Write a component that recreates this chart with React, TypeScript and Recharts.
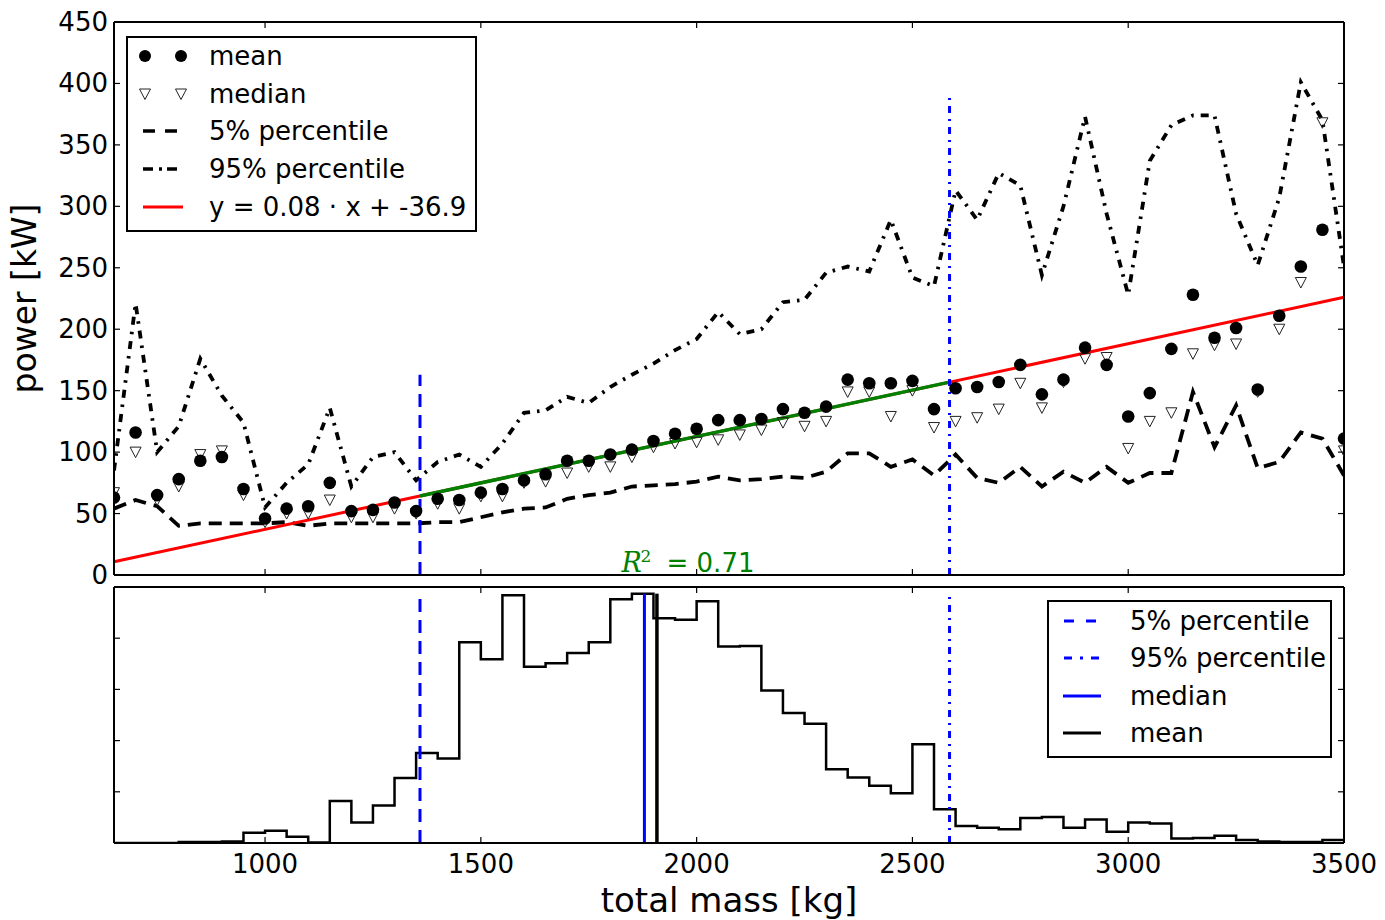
import { ComposedChart, Line, Scatter, XAxis, YAxis, ReferenceLine, ReferenceDot, Legend } from 'recharts'

const FONT = '"DejaVu Sans", "Liberation Sans", sans-serif'

// mass bin starts [kg]
const massBins = [
  650, 700, 750, 800, 850, 900, 950, 1000, 1050, 1100, 1150, 1200, 1250, 1300, 1350,
  1400, 1450, 1500, 1550, 1600, 1650, 1700, 1750, 1800, 1850, 1900, 1950, 2000, 2050,
  2100, 2150, 2200, 2250, 2300, 2350, 2400, 2450, 2500, 2550, 2600, 2650, 2700, 2750,
  2800, 2850, 2900, 2950, 3000, 3050, 3100, 3150, 3200, 3250, 3300, 3350, 3400, 3450, 3500,
]

const meanPower = [
  63, 116, 65, 78, 93, 96, 70, 46, 54, 56, 75, 52, 53, 59, 52,
  62, 61, 67, 70, 77, 82, 93, 93, 98, 102, 109, 115, 119, 126,
  126, 127, 135, 132, 137, 159, 156, 156, 158, 135, 152, 153, 157, 171,
  147, 159, 185, 171, 129, 148, 184, 228, 193, 201, 151, 211, 251, 281, 111,
]

const medianPower = [
  67, 100, 61, 72, 98, 101, 65, 43, 50, 50, 61, 47, 47, 54, 50,
  58, 54, 64, 64, 75, 76, 83, 88, 88, 96, 104, 107, 108, 110,
  114, 118, 124, 121, 125, 149, 149, 129, 150, 120, 125, 128, 135, 156,
  136, 157, 176, 177, 103, 125, 132, 180, 187, 188, 149, 200, 238, 368, 101,
]

const p5Power = [
  54, 61, 56, 40, 42, 42, 42, 42, 43, 40, 42, 42, 42, 42, 42,
  43, 43, 47, 51, 54, 55, 62, 65, 67, 72, 73, 74, 76, 80,
  77, 78, 80, 79, 84, 99, 99, 88, 94, 81, 98, 79, 75, 88,
  72, 84, 75, 88, 75, 83, 83, 149, 104, 138, 87, 92, 116, 111, 81,
]

const p95Power = [
  85, 221, 100, 121, 176, 146, 124, 55, 75, 90, 136, 72, 96, 100, 77,
  92, 98, 88, 107, 132, 134, 145, 140, 153, 163, 172, 183, 192, 214,
  196, 200, 222, 224, 246, 251, 247, 289, 242, 235, 313, 289, 327, 317,
  244, 300, 373, 294, 228, 337, 366, 374, 374, 294, 252, 307, 401, 370, 251,
]

// histogram heights per bin (last entry closes the step at 3500)
const histCounts = [
  0, 0, 0, 0.02, 0.02, 0.03, 0.2, 0.24, 0.12, 0.01, 0.82, 0.4, 0.73, 1.27, 1.76,
  1.65, 3.92, 3.59, 4.84, 3.44, 3.51, 3.71, 3.92, 4.76, 4.87, 4.39, 4.36, 4.72, 3.84,
  3.85, 2.98, 2.54, 2.33, 1.44, 1.28, 1.12, 0.97, 1.93, 0.66, 0.33, 0.3, 0.27, 0.49,
  0.51, 0.3, 0.46, 0.22, 0.4, 0.38, 0.09, 0.1, 0.14, 0.06, 0.03, 0.02, 0.02, 0.06, 0.06,
]

const massTicks = [1000, 1500, 2000, 2500, 3000, 3500]
const powerTicks = [0, 50, 100, 150, 200, 250, 300, 350, 400, 450]
const countTicks = [1, 2, 3, 4]

const fitSlope = 0.0755
const fitIntercept = -38.3
const p5Mass = 1359
const p95Mass = 2586
const medianMass = 1879
const meanMass = 1908
const p5LineTop = 163
const p95LineTop = 389
const histLineTop = 4.87
const r2Mass = 1826
const r2Power = 2.5

const rows = massBins.map((m, i) => ({
  mass: m,
  mean: meanPower[i],
  median: medianPower[i],
  p5: p5Power[i],
  p95: p95Power[i],
}))

const histRows = massBins.map((m, i) => ({ mass: m, count: histCounts[i] }))

const fitAt = (m: number) => fitSlope * m + fitIntercept

const TICK_LEN = 6

function makeTick(side: 'left' | 'right' | 'top' | 'bottom', withLabel: boolean) {
  return function TickMark(props: any) {
    const { x, y, payload } = props
    let line
    if (side === 'left') line = <line x1={x} x2={x + TICK_LEN} y1={y} y2={y} />
    else if (side === 'right') line = <line x1={x - TICK_LEN} x2={x} y1={y} y2={y} />
    else if (side === 'top') line = <line x1={x} x2={x} y1={y} y2={y + TICK_LEN} />
    else line = <line x1={x} x2={x} y1={y} y2={y - TICK_LEN} />
    return (
      <g>
        <g stroke="#000" strokeWidth={1.2}>{line}</g>
        {withLabel && side === 'left' && (
          <text x={x - 6} y={y + 9} textAnchor="end" fontSize={26} fontFamily={FONT} fill="#000">
            {payload.value}
          </text>
        )}
        {withLabel && side === 'bottom' && (
          <text x={x} y={y + 30} textAnchor="middle" fontSize={26} fontFamily={FONT} fill="#000">
            {payload.value}
          </text>
        )}
      </g>
    )
  }
}

function MeanDot(props: any) {
  const { cx, cy } = props
  if (cx == null || cy == null) return null
  return <circle cx={cx} cy={cy} r={6.3} fill="#000" />
}

function MedianTri(props: any) {
  const { cx, cy } = props
  if (cx == null || cy == null) return null
  return (
    <path
      d={`M${cx - 5.5},${cy - 5} L${cx + 5.5},${cy - 5} L${cx},${cy + 5.5} Z`}
      fill="none"
      stroke="#222"
      strokeWidth={1}
    />
  )
}

const textProps = { fontSize: 26, fontFamily: FONT, fill: '#000' }

function PowerLegend() {
  const rowY = [20, 58, 95, 133, 171]
  const labels = ['mean', 'median', '5% percentile', '95% percentile', 'y = 0.08 \u00b7 x + -36.9']
  return (
    <svg width={352} height={197} style={{ display: 'block' }}>
      <rect x={1} y={1} width={349} height={194} fill="#fff" stroke="#000" strokeWidth={2} />
      <circle cx={19} cy={rowY[0]} r={6} fill="#000" />
      <circle cx={55} cy={rowY[0]} r={6} fill="#000" />
      <MedianTri cx={19} cy={rowY[1]} />
      <MedianTri cx={55} cy={rowY[1]} />
      <line x1={17} x2={57} y1={rowY[2]} y2={rowY[2]} stroke="#000" strokeWidth={3.5} strokeDasharray="12 10" />
      <line x1={17} x2={57} y1={rowY[3]} y2={rowY[3]} stroke="#000" strokeWidth={3.5} strokeDasharray="10 6 3 5" />
      <line x1={17} x2={57} y1={rowY[4]} y2={rowY[4]} stroke="#ff0000" strokeWidth={3} />
      {labels.map((t, i) => (
        <text key={t} x={83} y={rowY[i] + 9} {...textProps}>
          {t}
        </text>
      ))}
    </svg>
  )
}

function MassLegend() {
  const rowY = [21, 58, 96, 133]
  const labels = ['5% percentile', '95% percentile', 'median', 'mean']
  return (
    <svg width={286} height={159} style={{ display: 'block' }}>
      <rect x={1} y={1} width={283} height={156} fill="#fff" stroke="#000" strokeWidth={2} />
      <line x1={17} x2={53} y1={rowY[0]} y2={rowY[0]} stroke="#0000ff" strokeWidth={3} strokeDasharray="10 12" />
      <line x1={17} x2={53} y1={rowY[1]} y2={rowY[1]} stroke="#0000ff" strokeWidth={3} strokeDasharray="8 8 3 8" />
      <line x1={16} x2={54} y1={rowY[2]} y2={rowY[2]} stroke="#0000ff" strokeWidth={3} />
      <line x1={16} x2={54} y1={rowY[3]} y2={rowY[3]} stroke="#000" strokeWidth={3} />
      {labels.map((t, i) => (
        <text key={t} x={83} y={rowY[i] + 9} {...textProps}>
          {t}
        </text>
      ))}
    </svg>
  )
}

function PowerLabel(props: any) {
  const vb = props.viewBox
  const cy = vb.y + vb.height / 2
  return (
    <text transform={`translate(36,${cy}) rotate(-90)`} textAnchor="middle" fontSize={33} fontFamily={FONT} fill="#000">
      power [kW]
    </text>
  )
}

function MassLabel(props: any) {
  const vb = props.viewBox
  return (
    <text x={vb.x + vb.width / 2} y={vb.y + 69} textAnchor="middle" fontSize={34} fontFamily={FONT} fill="#000">
      total mass [kg]
    </text>
  )
}

function R2Label(props: any) {
  const vb = props.viewBox
  const x = vb.x + vb.width / 2
  const y = vb.y + vb.height / 2
  return (
    <g fill="#008000">
      <text x={x} y={y} fontSize={27} fontFamily='"DejaVu Serif", serif' fontStyle="italic">R</text>
      <text x={x + 19} y={y - 10} fontSize={17} fontFamily='"DejaVu Serif", serif'>2</text>
      <text x={x + 45} y={y} fontSize={26} fontFamily={FONT}>= 0.71</text>
    </g>
  )
}

const frame = { stroke: '#000', strokeWidth: 2 }

function PowerChart() {
  return (
    <ComposedChart width={1385} height={600} data={rows} margin={{ top: 21, right: 40, bottom: 24, left: 0 }}>
      <XAxis xAxisId="b" dataKey="mass" type="number" domain={[650, 3500]} ticks={massTicks} interval={0}
        height={1} tickSize={0} tickMargin={0} tickLine={false} axisLine={frame} tick={makeTick('bottom', false)} allowDataOverflow />
      <XAxis xAxisId="t" orientation="top" dataKey="mass" type="number" domain={[650, 3500]} ticks={massTicks} interval={0}
        height={1} tickSize={0} tickMargin={0} tickLine={false} axisLine={frame} tick={makeTick('top', false)} allowDataOverflow />
      <YAxis yAxisId="l" type="number" domain={[0, 450]} ticks={powerTicks} interval={0} width={114}
        tickSize={0} tickMargin={0} tickLine={false} axisLine={frame} tick={makeTick('left', true)} label={PowerLabel} allowDataOverflow />
      <YAxis yAxisId="r" orientation="right" type="number" domain={[0, 450]} ticks={powerTicks} interval={0} width={1}
        tickSize={0} tickMargin={0} tickLine={false} axisLine={frame} tick={makeTick('right', false)} allowDataOverflow />

      <Line xAxisId="b" yAxisId="l" dataKey="p5" type="linear" stroke="#000" strokeWidth={3.8}
        strokeDasharray="13 8" dot={false} isAnimationActive={false} />
      <Line xAxisId="b" yAxisId="l" dataKey="p95" type="linear" stroke="#000" strokeWidth={3.8}
        strokeDasharray="8 7 2.5 7" dot={false} isAnimationActive={false} />
      <Scatter xAxisId="b" yAxisId="l" dataKey="median" shape={MedianTri} isAnimationActive={false} />
      <Scatter xAxisId="b" yAxisId="l" dataKey="mean" shape={MeanDot} isAnimationActive={false} />

      <ReferenceLine xAxisId="b" yAxisId="l" stroke="#ff0000" strokeWidth={3}
        segment={[{ x: 650, y: fitAt(650) }, { x: 3500, y: fitAt(3500) }]} />
      <ReferenceLine xAxisId="b" yAxisId="l" stroke="#008000" strokeWidth={3.5}
        segment={[{ x: p5Mass, y: fitAt(p5Mass) }, { x: p95Mass, y: fitAt(p95Mass) }]} />
      <ReferenceLine xAxisId="b" yAxisId="l" stroke="#0000ff" strokeWidth={3} strokeDasharray="13 8"
        segment={[{ x: p5Mass, y: 0 }, { x: p5Mass, y: p5LineTop }]} />
      <ReferenceLine xAxisId="b" yAxisId="l" stroke="#0000ff" strokeWidth={3} strokeDasharray="7 6 2 6"
        segment={[{ x: p95Mass, y: 0 }, { x: p95Mass, y: p95LineTop }]} />
      <ReferenceDot xAxisId="b" yAxisId="l" x={r2Mass} y={r2Power} r={1} fill="none" stroke="none" label={R2Label} />

      <Legend content={PowerLegend} layout="vertical" align="center" verticalAlign="middle"
        wrapperStyle={{ left: 126, top: 36, width: 352, height: 197 }} />
    </ComposedChart>
  )
}

function MassChart() {
  return (
    <ComposedChart width={1385} height={340} data={histRows} margin={{ top: 6, right: 40, bottom: 0, left: 0 }}>
      <XAxis xAxisId="b" dataKey="mass" type="number" domain={[650, 3500]} ticks={massTicks} interval={0}
        height={77} tickSize={0} tickMargin={0} tickLine={false} axisLine={frame} tick={makeTick('bottom', true)}
        label={MassLabel} allowDataOverflow />
      <XAxis xAxisId="t" orientation="top" dataKey="mass" type="number" domain={[650, 3500]} ticks={massTicks} interval={0}
        height={1} tickSize={0} tickMargin={0} tickLine={false} axisLine={frame} tick={makeTick('top', false)} allowDataOverflow />
      <YAxis yAxisId="l" type="number" domain={[0, 5]} ticks={countTicks} interval={0} width={114}
        tickSize={0} tickMargin={0} tickLine={false} axisLine={frame} tick={makeTick('left', false)} allowDataOverflow />
      <YAxis yAxisId="r" orientation="right" type="number" domain={[0, 5]} ticks={countTicks} interval={0} width={1}
        tickSize={0} tickMargin={0} tickLine={false} axisLine={frame} tick={makeTick('right', false)} allowDataOverflow />

      <Line xAxisId="b" yAxisId="l" dataKey="count" type="stepAfter" stroke="#000" strokeWidth={2.5}
        dot={false} isAnimationActive={false} />

      <ReferenceLine xAxisId="b" yAxisId="l" stroke="#0000ff" strokeWidth={3} strokeDasharray="13 8"
        segment={[{ x: p5Mass, y: 0 }, { x: p5Mass, y: histLineTop }]} />
      <ReferenceLine xAxisId="b" yAxisId="l" stroke="#0000ff" strokeWidth={3} strokeDasharray="7 6 2 6"
        segment={[{ x: p95Mass, y: 0 }, { x: p95Mass, y: histLineTop }]} />
      <ReferenceLine xAxisId="b" yAxisId="l" stroke="#0000ff" strokeWidth={3}
        segment={[{ x: medianMass, y: 0 }, { x: medianMass, y: histLineTop }]} />
      <ReferenceLine xAxisId="b" yAxisId="l" stroke="#000" strokeWidth={3.5}
        segment={[{ x: meanMass, y: 0 }, { x: meanMass, y: histLineTop }]} />

      <Legend content={MassLegend} layout="vertical" align="center" verticalAlign="middle"
        wrapperStyle={{ left: 1047, top: 20, width: 286, height: 159 }} />
    </ComposedChart>
  )
}

export default function App() {
  return (
    <div style={{ position: 'absolute', left: 0, top: 0, width: 1385, height: 920, background: '#fff', fontFamily: FONT }}>
      <div style={{ position: 'absolute', left: 0, top: 0 }}>
        <PowerChart />
      </div>
      <div style={{ position: 'absolute', left: 0, top: 580 }}>
        <MassChart />
      </div>
    </div>
  )
}
